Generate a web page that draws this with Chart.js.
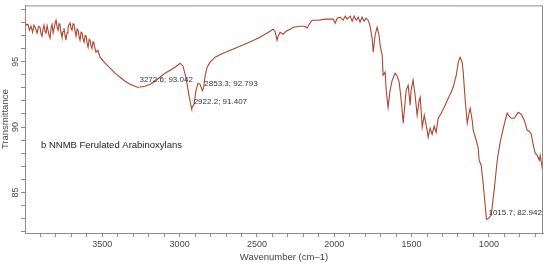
<!DOCTYPE html>
<html>
<head>
<meta charset="utf-8">
<script src="https://cdn.jsdelivr.net/npm/chart.js@4/dist/chart.umd.min.js"></script>
<style>
    html, body { margin: 0; padding: 0; background: #fff; }
    #wrap { width: 550px; height: 265px; position: relative; }
</style>
</head>
<body>
<div id="wrap"><canvas id="IR_Chart"></canvas></div>
<script>
// IR spectrum - NNMB ferulated arabinoxylans
var wavenumber = [
    4000, 3990, 3981, 3971, 3961, 3951, 3942, 3932, 3922, 3912, 3903, 3896, 3890, 3883, 3877, 3870,
    3864, 3857, 3851, 3844, 3838, 3831, 3825, 3818, 3812, 3805, 3799, 3792, 3786, 3780, 3774, 3767,
    3761, 3754, 3748, 3741, 3735, 3728, 3722, 3715, 3709, 3702, 3696, 3689, 3683, 3676, 3670, 3663,
    3657, 3650, 3644, 3637, 3631, 3624, 3618, 3611, 3605, 3598, 3592, 3585, 3579, 3573, 3567, 3560,
    3554, 3541, 3528, 3515, 3482, 3450, 3418, 3385, 3353, 3321, 3288, 3272.6, 3256, 3224, 3191, 3159,
    3127, 3094, 3062, 3030, 2997, 2978, 2958, 2939, 2926, 2922.2, 2907, 2894, 2881, 2868, 2853.3, 2845,
    2835, 2822, 2803, 2771, 2719, 2641, 2564, 2480, 2415, 2396, 2383, 2370, 2363, 2350, 2331, 2311,
    2286, 2266, 2221, 2188, 2175, 2162, 2143, 2104, 2059, 2007, 1994, 1981, 1962, 1943, 1929, 1917,
    1897, 1884, 1871, 1858, 1845, 1833, 1820, 1807, 1794, 1781, 1768, 1755, 1748, 1736, 1723, 1710,
    1703, 1690, 1684, 1671, 1664, 1652, 1639, 1625, 1606, 1593, 1580, 1567, 1554, 1541, 1535, 1522,
    1509, 1503, 1490, 1477, 1464, 1451, 1444, 1431, 1418, 1412, 1399, 1393, 1380, 1367, 1354, 1341,
    1328, 1308, 1283, 1263, 1244, 1231, 1211, 1198, 1186, 1173, 1166, 1153, 1140, 1127, 1121, 1108,
    1101, 1082, 1069, 1063, 1050, 1037, 1024, 1015.7, 1003, 985, 966, 946, 927, 914, 894, 882,
    869, 856, 836, 810, 791, 771, 752, 739, 726, 713, 700, 687, 674, 668, 661, 655, 650
];
var transmittance = [
    97.94, 97.80, 97.86, 97.40, 97.71, 97.25, 97.79, 97.55, 97.18, 97.70, 97.63, 97.10, 96.95, 97.50, 97.79, 97.30,
    97.18, 97.75, 97.40, 97.00, 96.79, 97.60, 97.86, 97.20, 97.56, 97.95, 98.17, 97.60, 97.40, 97.90, 97.79, 97.20,
    96.87, 97.30, 97.56, 97.00, 96.64, 97.20, 97.63, 97.85, 98.02, 97.55, 97.40, 97.90, 97.86, 97.30, 96.95, 97.50,
    97.40, 96.90, 96.64, 97.25, 97.18, 96.70, 96.49, 97.00, 96.95, 96.40, 96.10, 96.70, 96.64, 96.20, 96.03, 96.50,
    96.33, 95.72, 95.87, 95.34, 94.88, 94.50, 94.12, 93.81, 93.50, 93.27, 93.12, 93.04, 93.06, 93.12, 93.27, 93.50,
    93.81, 94.12, 94.34, 94.57, 94.88, 94.65, 93.73, 92.36, 91.59, 91.41, 91.74, 92.81, 93.35, 93.27, 92.79, 92.97,
    93.96, 94.57, 94.96, 95.34, 95.65, 96.03, 96.41, 96.87, 97.33, 97.48, 97.33, 96.64, 96.95, 97.25, 97.10, 97.33,
    97.48, 97.63, 97.71, 97.71, 97.56, 97.86, 98.17, 98.17, 98.25, 98.25, 97.94, 98.32, 98.40, 98.17, 98.48, 98.25,
    98.48, 98.09, 98.48, 98.17, 98.40, 98.02, 98.40, 98.09, 98.32, 98.17, 97.71, 96.79, 95.72, 97.02, 97.63, 97.02,
    96.18, 95.49, 93.96, 94.19, 92.81, 91.51, 92.81, 93.58, 94.12, 93.89, 93.43, 92.05, 90.29, 92.05, 92.81, 93.20,
    91.67, 92.81, 93.58, 92.43, 90.90, 92.05, 92.28, 89.98, 90.90, 90.52, 89.75, 89.22, 89.91, 89.45, 90.06, 89.60,
    90.67, 91.06, 91.67, 92.20, 92.66, 93.04, 93.96, 94.96, 95.34, 94.96, 94.19, 92.05, 90.29, 91.13, 91.44, 90.52,
    89.75, 88.99, 88.38, 87.46, 87.08, 85.70, 84.02, 82.94, 83.00, 83.25, 85.16, 87.46, 88.84, 89.53, 90.52, 91.06,
    90.83, 90.67, 90.67, 91.13, 90.98, 90.52, 89.75, 89.68, 89.45, 88.61, 88.00, 87.84, 87.46, 87.84, 87.31, 86.85, 87.23
];

// labelled peaks
var peakWavenumber = [3272.6, 2922.2, 2853.3, 1015.7];
var peakTransmittance = [93.042, 91.407, 92.793, 82.942];

// ticks (minor every 100 / every 1, labelled every 500 / every 5)
var xTicks = [700, 800, 900, 1000, 1100, 1200, 1300, 1400, 1500, 1600, 1700, 1800, 1900, 2000, 2100, 2200,
    2300, 2400, 2500, 2600, 2700, 2800, 2900, 3000, 3100, 3200, 3300, 3400, 3500, 3600, 3700, 3800, 3900];
var xTickLabels = [1000, 1500, 2000, 2500, 3000, 3500];
var yTicks = [82, 83, 84, 85, 86, 87, 88, 89, 90, 91, 92, 93, 94, 95, 96, 97, 98, 99];
var yTickLabels = [85, 90, 95];

var sampleName = 'b NNMB Ferulated Arabinoxylans';

var IR_Chart = null;

// box around plot + peak labels + sample name
var irDecor = {
    id: 'irDecor',
    afterDatasetsDraw: function(chart) {
        var ctx = chart.ctx;
        var area = chart.chartArea;
        var xs = chart.scales.x;
        var ys = chart.scales.y;
        ctx.save();
        ctx.strokeStyle = '#8c8c8c';
        ctx.lineWidth = 1;
        ctx.beginPath();
        ctx.moveTo(area.left, area.top + 0.5);
        ctx.lineTo(area.right - 0.5, area.top + 0.5);
        ctx.lineTo(area.right - 0.5, area.bottom);
        ctx.stroke();

        ctx.fillStyle = '#333';
        ctx.font = '8px "Liberation Sans", Arial, sans-serif';
        ctx.textAlign = 'left';
        ctx.textBaseline = 'middle';
        for (var i = 0; i < peakWavenumber.length; i++) {
            var px = xs.getPixelForValue(peakWavenumber[i]);
            var py = ys.getPixelForValue(peakTransmittance[i]);
            var txt = peakWavenumber[i].toFixed(1) + '; ' + peakTransmittance[i].toFixed(3);
            ctx.fillText(txt, px + 2, py - 7);
        }

        ctx.font = '9.5px "Liberation Sans", Arial, sans-serif';
        ctx.fillStyle = '#222';
        ctx.fillText(sampleName, area.left + 16, ys.getPixelForValue(88.6));
        ctx.restore();
    }
};

function createIR_Chart() {
    var canvas = document.getElementById('IR_Chart');
    if (IR_Chart) {
        IR_Chart.destroy();
    }
    var points = wavenumber.map(function(w, i) { return { x: w, y: transmittance[i] }; });

    IR_Chart = new Chart(canvas, {
        type: 'line',
        data: {
            datasets: [{
                data: points,
                borderColor: '#ad4530',
                borderWidth: 1.1,
                pointRadius: 0,
                tension: 0,
                fill: false
            }]
        },
        options: {
            responsive: true,
            maintainAspectRatio: false,
            animation: false,
            plugins: {
                legend: { display: false },
                tooltip: { enabled: false }
            },
            layout: {
                padding: { left: 0, right: 7, top: 5, bottom: 0 }
            },
            scales: {
                x: {
                    type: 'linear',
                    reverse: true,
                    min: 650,
                    max: 4000,
                    afterBuildTicks: function(axis) {
                        axis.ticks = xTicks.map(function(v) { return { value: v }; });
                    },
                    afterFit: function(axis) {
                        axis.height = 32;
                    },
                    grid: {
                        drawOnChartArea: false,
                        drawTicks: true,
                        tickLength: 4,
                        tickColor: '#8c8c8c',
                        color: '#8c8c8c'
                    },
                    border: { color: '#8c8c8c', width: 1 },
                    ticks: {
                        autoSkip: false,
                        maxRotation: 0,
                        minRotation: 0,
                        padding: 2,
                        color: '#444',
                        font: { family: "'Liberation Sans', Arial, sans-serif", size: 9 },
                        callback: function(v) {
                            return xTickLabels.indexOf(v) >= 0 ? String(v) : '';
                        }
                    },
                    title: {
                        display: true,
                        text: 'Wavenumber (cm\u20131)',
                        color: '#444',
                        padding: { top: 1, bottom: 2 },
                        font: { family: "'Liberation Sans', Arial, sans-serif", size: 9.5 }
                    }
                },
                y: {
                    min: 81.9,
                    max: 99.3,
                    afterBuildTicks: function(axis) {
                        axis.ticks = yTicks.map(function(v) { return { value: v }; });
                    },
                    afterFit: function(axis) {
                        axis.width = 25;
                    },
                    grid: {
                        drawOnChartArea: false,
                        drawTicks: true,
                        tickLength: 4,
                        tickColor: '#8c8c8c',
                        color: '#8c8c8c'
                    },
                    border: { color: '#8c8c8c', width: 1 },
                    ticks: {
                        autoSkip: false,
                        minRotation: 90,
                        maxRotation: 90,
                        crossAlign: 'center',
                        padding: 0,
                        color: '#444',
                        font: { family: "'Liberation Sans', Arial, sans-serif", size: 9 },
                        callback: function(v) {
                            return yTickLabels.indexOf(v) >= 0 ? String(v) : '';
                        }
                    },
                    title: {
                        display: true,
                        text: 'Transmittance',
                        color: '#444',
                        padding: { top: 0, bottom: 0 },
                        font: { family: "'Liberation Sans', Arial, sans-serif", size: 9.5 }
                    }
                }
            }
        },
        plugins: [irDecor]
    });
}

document.addEventListener('DOMContentLoaded', function() {
    createIR_Chart();
});
</script>
</body>
</html>
